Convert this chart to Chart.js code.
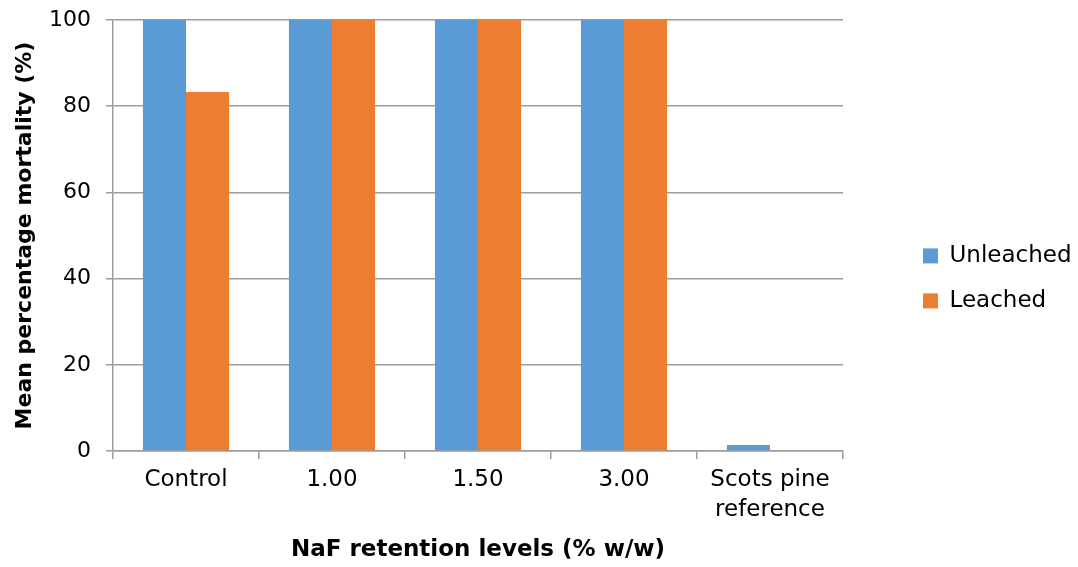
<!DOCTYPE html>
<html>
<head>
<meta charset="utf-8">
<title>Mean percentage mortality by NaF retention level</title>
<script src="https://cdn.jsdelivr.net/npm/chart.js@4/dist/chart.umd.min.js"></script>
<style>
  html, body { margin: 0; padding: 0; background: #ffffff; }
  #wrap { width: 1078px; height: 567px; position: relative; }
</style>
</head>
<body>
<div id="wrap"><canvas id="chart" width="1078" height="567"></canvas></div>
<script>
// Treatment groups along the x axis
const categories = ['Control', '1.00', '1.50', '3.00', ['Scots pine', 'reference']];

// Mean mortality (%) per group
const unleached = [100, 100, 100, 100, 1.4];
const leached = [83.3, 100, 100, 100, 0];

// Value axis ticks
const yTicks = [0, 20, 40, 60, 80, 100];

const FONT = 'DejaVu Sans';
const GRID = '#9c9c9c';

new Chart(document.getElementById('chart'), {
  type: 'bar',
  data: {
    labels: categories,
    datasets: [
      { label: 'Unleached', data: unleached, backgroundColor: '#5B9BD5', borderWidth: 0 },
      { label: 'Leached', data: leached, backgroundColor: '#ED7D31', borderWidth: 0 }
    ]
  },
  options: {
    responsive: false,
    animation: false,
    devicePixelRatio: 1,
    layout: { padding: { top: 20, right: 0, bottom: 0, left: 0 } },
    datasets: { bar: { barPercentage: 1.0, categoryPercentage: 0.59 } },
    plugins: {
      tooltip: { enabled: false },
      legend: {
        position: 'right',
        align: 'start',
        maxWidth: 177,
        title: { display: true, text: '', font: { family: FONT, size: 12 }, padding: { top: 188, bottom: 0 } },
        labels: {
          font: { family: FONT, size: 23 },
          color: '#000000',
          boxWidth: 15,
          boxHeight: 15,
          padding: 22
        }
      }
    },
    scales: {
      x: {
        type: 'category',
        offset: true,
        afterFit: s => { s.height = 116; },
        grid: {
          offset: true,
          drawOnChartArea: false,
          drawTicks: true,
          tickLength: 8,
          color: GRID,
          lineWidth: 1.5
        },
        border: { display: true, color: GRID, width: 1.5 },
        ticks: {
          font: { family: FONT, size: 23, lineHeight: 1.3 },
          color: '#000000',
          padding: 6,
          maxRotation: 0,
          autoSkip: false
        },
        title: {
          display: true,
          text: 'NaF retention levels (% w/w)',
          font: { family: FONT, size: 23, weight: 'bold', lineHeight: 1.2 },
          color: '#000000',
          padding: { top: 0, bottom: 3 }
        }
      },
      y: {
        min: 0,
        max: 100,
        afterFit: s => { s.width = 113; s.paddingTop = 0; s.paddingBottom = 0; },
        afterBuildTicks: s => { s.ticks = yTicks.map(v => ({ value: v })); },
        grid: {
          color: GRID,
          lineWidth: 1.5,
          drawTicks: true,
          tickLength: 7
        },
        border: { display: true, color: GRID, width: 1.5 },
        ticks: {
          font: { family: FONT, size: 22 },
          color: '#000000',
          padding: 15
        },
        title: {
          display: true,
          text: 'Mean percentage mortality (%)',
          font: { family: FONT, size: 22, weight: 'bold', lineHeight: 1.2 },
          color: '#000000',
          padding: { top: 12, bottom: 0 }
        }
      },
      // empty band between the plot and the legend
      gap: {
        type: 'linear',
        position: 'right',
        display: true,
        afterFit: s => { s.width = 58; s.paddingTop = 0; s.paddingBottom = 0; },
        grid: { display: false },
        border: { display: false },
        ticks: { display: false }
      }
    }
  }
});
</script>
</body>
</html>
